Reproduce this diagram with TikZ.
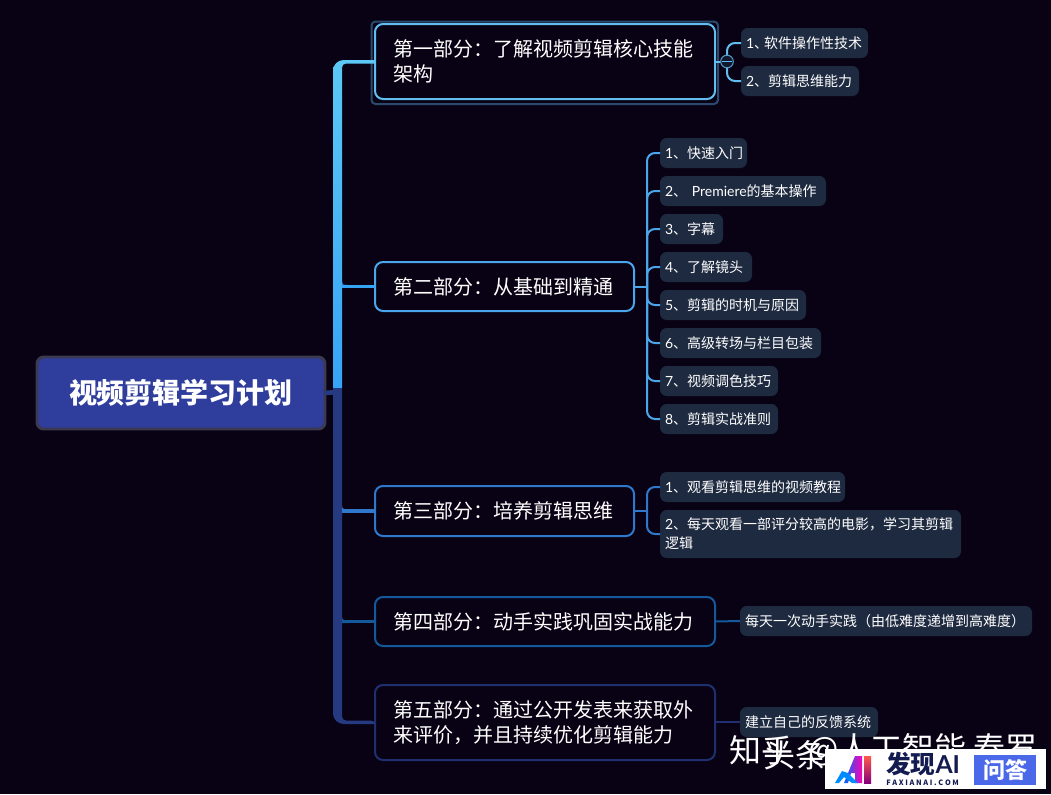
\documentclass[tikz,border=0pt]{standalone}
\usepackage{fontspec}
\setmainfont{Noto Sans CJK SC}
\newfontfamily\latinf{Lato}
\usetikzlibrary{calc}
\definecolor{bg}{HTML}{080214}
\definecolor{rootfill}{HTML}{2F3D9C}
\definecolor{rootline}{HTML}{3B3A50}
\definecolor{subfill}{HTML}{1E2A40}
\definecolor{ca}{HTML}{62BDEF}
\definecolor{cb}{HTML}{4BA5EA}
\definecolor{cc}{HTML}{2F78CC}
\definecolor{cd}{HTML}{14599B}
\definecolor{ce}{HTML}{1F2F70}
\definecolor{trtop}{HTML}{5CC8F5}
\definecolor{trbot}{HTML}{36A4F5}
\definecolor{trdark}{HTML}{253A80}
\definecolor{halo}{HTML}{2B4A6E}
\definecolor{logotext}{HTML}{141B50}
\definecolor{logoblue}{HTML}{4A68E8}
\tikzset{
  x=0.75pt,y=-0.75pt,
  bx/.style n args={3}{draw=#3,line width=1.5pt,fill=bg,rounded corners=6pt,anchor=north west,outer sep=0pt,
     inner xsep=13.5pt,inner ysep=0pt,text=white,align=left,
     minimum width=#1*0.75pt,minimum height=#2*0.75pt,text width=(#1-36)*0.75pt,
     font=\fontsize{15}{18.75}\selectfont},
  sb/.style n args={2}{fill=subfill,rounded corners=5pt,anchor=north west,outer sep=0pt,
     inner xsep=3.75pt,inner ysep=0pt,text=white,align=left,
     minimum width=#1*0.75pt,minimum height=#2*0.75pt,text width=(#1-10)*0.75pt,
     font=\fontsize{10.5}{14.25}\selectfont},
  lk/.style={draw=#1,line width=1.5pt,rounded corners=6pt},
  st/.style={draw=#1,line width=1.5pt},
}
\begin{document}
\begin{tikzpicture}
\useasboundingbox (0,0) rectangle (1051,794);
\fill[bg] (0,0) rectangle (1051,794);
% nodes
\draw[halo,line width=1.5pt,rounded corners=3pt] (371.5,21.5) rectangle (718,104);
\node[draw=rootline,line width=2.2pt,fill=rootfill,rounded corners=5pt,anchor=north west,outer sep=0pt,minimum width=216pt,minimum height=54pt,text=white,font=\fontsize{21}{24}\selectfont\bfseries] (root) at (37,357) {视频剪辑学习计划};
\node[bx={340}{75}{ca}] (b1) at (375,24) {第一部分：了解视频剪辑核心技能\\架构};
\node[bx={259}{49}{cb}] (b2) at (375,262) {第二部分：从基础到精通};
\node[bx={259}{50}{cc}] (b3) at (375,486) {第三部分：培养剪辑思维};
\node[bx={340}{49}{cd}] (b4) at (375,597) {第四部分：动手实践巩固实战能力};
\node[bx={340}{75}{ce}] (b5) at (375,685) {第五部分：通过公开发表来获取外\\来评价，并且持续优化剪辑能力};
\node[sb={127}{30}] (s11) at (741,28) {{\latinf 1}、\hspace{-3pt}软件操作性技术};
\node[sb={118}{30}] (s12) at (741,66) {{\latinf 2}、剪辑思维能力};
\node[sb={87}{30}] (s21) at (660,138) {{\latinf 1}、快速入门};
\node[sb={166}{30}] (s22) at (660,176) {{\latinf 2}、 {\latinf Premiere}的基本操作};
\node[sb={63}{30}] (s23) at (660,214) {{\latinf 3}、字幕};
\node[sb={92}{30}] (s24) at (660,252) {{\latinf 4}、了解镜头};
\node[sb={146}{30}] (s25) at (660,290) {{\latinf 5}、剪辑的时机与原因};
\node[sb={161}{30}] (s26) at (660,328) {{\latinf 6}、高级转场与栏目包装};
\node[sb={118}{30}] (s27) at (660,366) {{\latinf 7}、视频调色技巧};
\node[sb={118}{30}] (s28) at (660,404) {{\latinf 8}、剪辑实战准则};
\node[sb={185}{30}] (s31) at (660,472) {{\latinf 1}、观看剪辑思维的视频教程};
\node[sb={301}{48}] (s32) at (660,510) {{\latinf 2}、每天观看一部评分较高的电影，学习其剪辑\\逻辑};
\node[sb={292}{30}] (s41) at (740,606) {每天一次动手实践（由低难度递增到高难度）};
\node[sb={138}{30}] (s51) at (740,707) {建立自己的反馈系统};
% trunk
\coordinate (tr) at (337.5,392);
\coordinate (e1) at (727,392);
\coordinate (e2) at (647,392);
\shade[top color=trtop,bottom color=trbot] (333,388) [rounded corners=8pt] -- (333,60) [sharp corners] -- (375,60) -- (375,63.5) [rounded corners=3pt] -- (342,63.5) [sharp corners] -- (342,388) -- cycle;
\fill[trdark] (342,388) -- (342,716) [rounded corners=3pt] -- (342,720.5) -- (375,720.5) [sharp corners] -- (375,724) [rounded corners=8pt] -- (333,724) [sharp corners] -- (333,388) -- cycle;
\draw[trdark,line width=3.5pt] (root.east) -- (tr);
\draw[draw=trbot,line width=2.4pt] (342,0 |- b2.west) -- (b2.west);
\fill[trbot] (342,281) .. controls (342,285) and (344,284.7) .. (348,284.7) -- (342,284.7) -- cycle;
\fill[cc] (342,506) .. controls (342,509) and (344,509.5) .. (350,509.5) -- (350,512) -- (342,512) -- cycle;
\draw[draw=cc,line width=2.4pt] (342,0 |- b3.west) -- (b3.west);
\fill[cd] (342,617) .. controls (342,620) and (344,620.5) .. (350,620.5) -- (350,623) -- (342,623) -- cycle;
\draw[draw=cd,line width=2.4pt] (342,0 |- b4.west) -- (b4.west);
% sub connectors
\draw[st=ca] (b1.east) -- (e1 |- b1.east);
\foreach \s in {s11,s12}{\draw[lk=ca] (e1 |- b1.east) -- (e1 |- \s.west) -- (\s.west);}
\draw[st=cb] (b2.east) -- (e2 |- b2.east);
\foreach \s in {s21,s22,s23,s24,s25,s26,s27,s28}{\draw[lk=cb] (e2 |- b2.east) -- (e2 |- \s.west) -- (\s.west);}
\draw[st=cc] (b3.east) -- (e2 |- b3.east);
\foreach \s in {s31,s32}{\draw[lk=cc] (e2 |- b3.east) -- (e2 |- \s.west) -- (\s.west);}
\draw[st=cd] (b4.east) -- (s41.west);
\draw[st=ce] (b5.east |- s51.west) -- (s51.west);
% collapse
\node[circle,draw=ca!80!black,fill=bg!70!halo,line width=0.8pt,minimum size=9.5pt,inner sep=0pt] (col) at (e1 |- b1.east) {};
\draw[ca,line width=0.8pt] ($(col.west)+(2,0)$) -- ($(col.east)+(-2,0)$);
% watermark
\node[anchor=west,text=white,inner sep=0pt,font=\fontsize{24}{24}\selectfont] (wm) at (729,750) {知乎};
\node[anchor=west,text=white,inner sep=0pt,font=\fontsize{24}{24}\selectfont] (wm2) at (763,755) {头条};
\node[anchor=west,text=white,inner sep=0pt,font=\fontsize{24}{24}\selectfont] (wm3) at (808,750) {@人工智能 春罗};
% logo
\fill[white] (825,749) rectangle (1046,789);
\shade[left color=blue!60!cyan,right color=magenta!70!red] (844,783) -- (855,756) -- (862,756) -- (862,783) -- (855,783) -- (855,773) -- (851,773) -- (848,783) -- cycle;
\fill[blue!45!cyan] (835,783) -- (842,771) -- (848,773) -- (858,783) -- (852,783) -- (844,777) -- (839,783) -- cycle;
\shade[top color=orange!70!magenta,bottom color=purple!70!blue] (864,756) rectangle (871,783);
\node[anchor=west,text=logotext,inner sep=0pt,font=\fontsize{18.5}{20}\selectfont\bfseries] (lg) at (886,764) {发现{\latinf AI}};
\node[anchor=west,text=logotext,inner sep=0pt,font=\fontsize{5.5}{6}\selectfont\bfseries] (lg2) at (886,782.5) {F A X I A N A I . C O M};
\node[fill=logoblue,text=white,anchor=north west,outer sep=0pt,inner sep=0pt,minimum width=46.5pt,minimum height=22.5pt,font=\fontsize{16.5}{18}\selectfont\bfseries] (wd) at (974,755) {问答};
\end{tikzpicture}
\end{document}
